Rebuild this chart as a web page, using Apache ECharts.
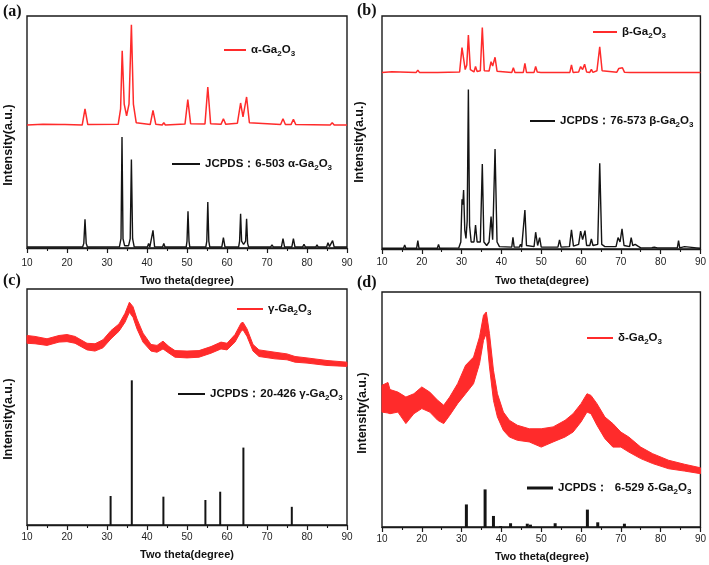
<!DOCTYPE html>
<html><head><meta charset="utf-8">
<script src="https://cdn.jsdelivr.net/npm/echarts@6/dist/echarts.min.js"></script>
<style>html,body{margin:0;padding:0;background:#fff}#c{width:709px;height:565px}</style>
</head><body><div id="c"></div>
<script>
// ---------- DATA ----------
const xRange = [10, 90];
const xStep = 10;
const xTitle = 'Two theta(degree)';
const yTitle = 'Intensity(a.u.)';
const panelLabels = ['(a)', '(b)', '(c)', '(d)'];
const seriesNames = {
  aRed: 'α-Ga2O3', aBlack: 'JCPDS：6-503 α-Ga2O3',
  bRed: 'β-Ga2O3', bBlack: 'JCPDS：76-573 β-Ga2O3',
  cRed: 'γ-Ga2O3', cBlack: 'JCPDS：20-426 γ-Ga2O3',
  dRed: 'δ-Ga2O3', dBlack: 'JCPDS：  6-529 δ-Ga2O3'
};

// (a) measured α-Ga2O3 pattern [2θ, intensity]
const aRed = [[10,53],[14,53.3],[18.5,53.2],[19,54],[19.5,53.2],[23.8,53],[24.5,60],[25.2,53.2],
 [32.8,53.3],[33.4,60],[33.8,85],[34.3,62],[34.9,57],[35.5,62],[36.1,96.2],[36.6,62],[37.3,54],
 [40.8,53.2],[41.5,59.3],[42.2,53.3],[43.8,53],[44.2,54],[44.6,53],
 [49.5,53.4],[50.2,64],[50.9,53.6],[54.5,53.5],[55.2,69.4],[55.9,53.6],
 [58.5,53.3],[59.1,55.7],[59.7,53.3],[62.6,53.8],[63.4,62.5],[64.0,56.5],[64.9,65.1],[65.6,54],
 [73.4,53.2],[74,55.7],[74.6,53.2],[76,53.2],[76.6,55.5],[77.2,53.2],[85.8,53],[86.3,54],[86.8,53],[90,53]];
// (a) JCPDS 6-503 reference pattern
const aBlack = [[10,0.4],[23.9,0.4],[24.2,2],[24.5,12.4],[24.8,2],[25.1,0.4],
 [33.1,0.5],[33.5,4],[33.75,47.8],[34.0,4],[34.4,1.0],[35.4,1.0],[35.8,4],[36.1,38.1],[36.4,4],[36.8,0.5],
 [40.1,0.4],[40.4,1.9],[40.7,0.4],[41.1,0.5],[41.5,7.6],[41.9,0.5],[43.9,0.4],[44.2,1.9],[44.5,0.4],
 [49.8,0.4],[50.0,3],[50.25,15.8],[50.5,3],[50.7,0.4],[54.7,0.4],[54.95,3],[55.2,19.8],[55.45,3],[55.7,0.4],
 [58.7,0.4],[59.1,4.5],[59.5,0.4],[62.9,0.4],[63.15,3],[63.4,14.8],[63.65,3],[64.15,1.5],[64.65,3],[64.9,12.6],[65.15,2],[65.4,0.4],
 [70.9,0.4],[71.25,1.4],[71.6,0.4],[73.6,0.4],[74,4],[74.4,0.4],[76.2,0.4],[76.6,4],[77,0.4],
 [78.9,0.4],[79.25,1.6],[79.6,0.4],[82.2,0.4],[82.5,1.4],[82.8,0.4],[84.9,0.4],[85.25,2.3],[85.6,0.6],[86.0,0.6],[86.4,3.2],[86.8,0.4],[90,0.4]];

// (b) measured β-Ga2O3 pattern
const bRed = [[10,75.7],[12.5,76.1],[18.6,75.8],[19,76.8],[19.4,75.8],[24,75.8],[24.2,76.3],[24.5,75.8],
 [29.5,76],[30.1,86.4],[30.4,86.8],[30.9,77],[31.3,79],[31.7,91.8],[32.2,77],
 [33.1,76],[33.5,78.3],[33.9,76.2],[34.7,76.5],[35.2,95.1],[35.7,76.5],
 [36.9,76.4],[37.4,80.4],[37.8,78.5],[38.4,82.3],[38.9,76.3],
 [42.6,75.8],[43,77.8],[43.4,75.8],[45.5,75.8],[45.9,79.7],[46.3,75.8],
 [48.2,75.8],[48.6,78.3],[49,76],[49.5,76.5],[49.9,75.8],
 [54.2,75.7],[54.6,76.5],[55,75.7],[57.2,75.8],[57.6,79],[58,75.8],
 [59.4,76],[59.9,78.3],[60.4,77],[60.9,79.3],[61.4,76],
 [62.2,75.8],[62.6,77.1],[63,75.8],[64,76.5],[64.7,86.8],[65.3,76.5],
 [69,75.9],[69.5,77.5],[69.9,76.8],[70.4,77.8],[70.9,75.9],
 [72.3,75.8],[72.6,76.5],[73,75.8],[73.7,75.8],[74,76.5],[74.3,75.8],
 [84.2,75.7],[84.5,76.2],[84.8,75.7],[90,75.7]];
// (b) JCPDS 76-573 reference pattern
const bBlack = [[10,0.3],[15.4,0.3],[15.7,1.7],[16,0.3],[18.7,0.3],[19,3.6],[19.3,0.3],[23.9,0.3],[24.2,2],[24.5,0.3],
 [29.3,0.5],[29.8,3],[30.1,21.3],[30.3,19],[30.5,25.3],[30.8,8],[31.1,4.5],[31.4,12],[31.7,68.5],[32.0,10],[32.4,3],
 [33.1,3],[33.5,10.3],[33.9,3],[34.7,3],[35.2,36.5],[35.6,3],[36.3,1.5],[36.9,3],[37.4,13.9],[37.8,4],[38.4,42.9],[38.9,3],[39.5,1],
 [42.6,0.8],[42.9,5],[43.2,0.8],[44.5,0.8],[44.8,2],[45.1,0.8],[45.6,1.5],[45.9,16.7],[46.3,1.5],
 [48.2,1],[48.6,7.2],[49.1,1.5],[49.6,4.9],[50,0.8],[50.8,0.8],[51,1.2],[51.3,0.5],
 [52.6,0.8],[54.2,0.8],[54.6,3.9],[55,0.8],[57.1,1],[57.6,8.2],[58.1,1.2],[59.4,2],[59.9,7.7],[60.4,4],[61,7.9],[61.4,1.5],
 [62.2,1.5],[62.6,4.3],[63,1.5],[64.2,2],[64.7,36.8],[65.2,2],[66,1],[68.8,1],[69.3,4.9],[69.8,3],[70.3,8.7],[70.8,1.5],
 [72.2,1],[72.6,4.9],[73,1.5],[73.6,2],[74,1.5],[74.3,1.2],[75,0.5],[77.8,0.6],[78,1.4],[78.4,0.8],[78.8,1.4],[79.2,0.5],
 [82,0.5],[82.2,1.2],[82.5,0.5],[84.2,0.5],[84.5,3.6],[84.8,0.5],[86,1],[86.5,0.5],[89,0.5],[89.2,1],[89.5,0.3],[90,0.3]];

// (c) measured γ-Ga2O3 noisy band [2θ, lower, upper]
const cRed = [[10,77.0,80.3],[12,76.8,79.9],[15,76.1,78.9],[18,77.5,80.3],[20,77.7,80.7],[22,77.0,79.9],
 [25,74.2,77.0],[27,73.7,76.8],[29,75.1,78.5],[31,78.9,82.4],[33,82.1,85.2],[34.5,85.9,89.7],
 [35.6,90.1,94.4],[36.5,88.0,92.5],[37.5,83.1,87.3],[39,77.5,81.3],[41,73.7,76.5],[42.5,73.2,76.1],
 [44,74.6,77.9],[45.5,72.8,75.6],[47,71.1,73.9],[50,70.8,73.7],[53,71.1,73.9],[56,72.8,75.6],
 [58.5,74.6,77.5],[60,74.2,77.0],[62,77.5,80.7],[63.5,82.1,85.5],[64,82.7,85.9],[65,79.9,83.1],
 [66.5,73.7,76.5],[68,71.4,74.2],[72,70.4,73.2],[75,70.0,72.5],[77,69.0,71.4],[80,68.6,70.8],
 [85,67.6,69.7],[90,67.2,69.0]];
// (c) JCPDS 20-426 stick pattern [2θ, intensity]
const cBlack = [[30.9,12.3],[36.2,61.3],[44.1,12.0],[54.6,10.6],[58.3,14.1],[64.1,32.8],[76.2,7.7]];

// (d) measured δ-Ga2O3 noisy band [2θ, lower, upper]
const dRed = [[10,48.9,60.3],[11.5,48.5,61.5],[12,48.2,58.5],[14,48.9,57.4],[16,44.0,55.3],[18,48.2,56.7],
 [20,50.4,59.6],[22,48.9,57.4],[24,45.4,53.9],[25.5,44.0,51.8],[27,47.5,55.3],[29,52.5,61.0],
 [31,56.7,68.8],[33,61.0,72.3],[34.5,69.5,80.9],[35.5,79.4,90.1],[36.2,82.3,91.5],[37,68.1,82.3],
 [38,53.9,66.7],[39,46.8,56.7],[40.5,41.1,48.9],[42,38.3,45.4],[44,36.9,43.3],[47,36.2,41.8],
 [50,34.0,41.8],[53,36.2,42.6],[56,38.3,45.4],[58,40.4,48.2],[60,44.7,52.5],[61.5,48.9,56.7],
 [62.5,48.2,56.0],[64,43.3,52.5],[66,37.6,46.8],[68,34.0,44.0],[70,34.0,40.4],[72,31.9,38.3],
 [75,29.1,34.0],[78,27.0,31.2],[82,24.8,28.4],[86,23.8,26.7],[90,22.7,25.2]];
// (d) JCPDS 6-529 stick pattern
const dBlack = [[31.2,9.6],[35.9,16.0],[38.0,4.7],[39.8,0.4],[42.3,1.6],[46.5,1.4],[47.3,1.0],[53.5,1.6],[61.6,7.4],[64.2,2.0],[70.9,1.4]];

// ---------- CHART ----------
const FONT = '"Liberation Sans", Arial, Helvetica, sans-serif';
const RED = '#ff2b2b';
const BLACK = '#141414';
const AX = '#1a1a1a';

const grids = [
  {left: 27, top: 16, width: 320, height: 232},
  {left: 382, top: 16, width: 320, height: 233},
  {left: 27, top: 289, width: 320, height: 236},
  {left: 382, top: 292, width: 320, height: 235}
];
const labelMargins = [10, 8, 7, 7];

const chart = echarts.init(document.getElementById('c'), null, {renderer: 'canvas'});

const xAxes = grids.map((g, i) => ({
  type: 'value', gridIndex: i, min: xRange[0], max: xRange[1], interval: xStep,
  axisLine: {show: true, lineStyle: {color: AX, width: 1.4}},
  axisTick: {show: true, inside: false, length: 5, lineStyle: {color: AX, width: 1.2}},
  minorTick: {show: true, splitNumber: 2, length: 3, lineStyle: {color: AX, width: 1.1}},
  axisLabel: {color: '#1e1e1e', fontSize: 10, fontFamily: FONT, margin: labelMargins[i]},
  splitLine: {show: false}, minorSplitLine: {show: false}
}));
const yAxes = grids.map((g, i) => ({
  type: 'value', gridIndex: i, min: 0, max: 100,
  axisLine: {show: false}, axisTick: {show: false}, axisLabel: {show: false}, splitLine: {show: false}
}));

function bandSeries(name, arr, idx) {
  return {
    name, type: 'custom', coordinateSystem: 'cartesian2d', xAxisIndex: idx, yAxisIndex: idx,
    itemStyle: {color: RED}, silent: true,
    data: arr, encode: {x: 0, y: [1, 2]},
    renderItem: function (params, api) {
      if (params.dataIndex !== 0) return null;
      const up = arr.map(p => api.coord([p[0], p[2]]));
      const lo = arr.map(p => api.coord([p[0], p[1]])).reverse();
      return {type: 'polygon', shape: {points: up.concat(lo)},
        style: {fill: RED, stroke: RED, lineWidth: 1}};
    }
  };
}
function lineSeries(name, arr, idx, color, w) {
  return {name, type: 'line', xAxisIndex: idx, yAxisIndex: idx, data: arr, showSymbol: false, symbol: 'none',
    itemStyle: {color}, lineStyle: {color, width: w}, silent: true, animation: false};
}
function stickSeries(name, arr, idx, w) {
  return {name, type: 'bar', xAxisIndex: idx, yAxisIndex: idx, data: arr, barWidth: w,
    itemStyle: {color: BLACK}, silent: true, animation: false};
}

const series = [
  lineSeries(seriesNames.aRed, aRed, 0, RED, 1.5),
  lineSeries(seriesNames.aBlack, aBlack, 0, BLACK, 1.4),
  lineSeries(seriesNames.bRed, bRed, 1, RED, 1.5),
  lineSeries(seriesNames.bBlack, bBlack, 1, BLACK, 1.4),
  bandSeries(seriesNames.cRed, cRed, 2),
  stickSeries(seriesNames.cBlack, cBlack, 2, 2),
  bandSeries(seriesNames.dRed, dRed, 3),
  stickSeries(seriesNames.dBlack, dBlack, 3, 3)
];

function fmt(name) {
  return '{t|' + name.replace('Ga2O3', 'Ga}{s|2}{t|O}{s|3}');
}
const rich = {
  t: {fontSize: 11.5, fontWeight: 'bold', fontFamily: FONT, color: '#111'},
  s: {fontSize: 8, fontWeight: 'bold', fontFamily: FONT, color: '#111', padding: [7, 0, 0, 0]}
};
function legend(name, left, top, w, h) {
  return {data: [name], left, top, itemWidth: w, itemHeight: h, icon: 'rect', selectedMode: false,
    padding: 0, formatter: fmt, textStyle: {rich}};
}
const legends = [
  legend(seriesNames.aRed, 224, 44, 22, 2),
  legend(seriesNames.aBlack, 172, 158, 28, 2),
  legend(seriesNames.bRed, 593, 26, 24, 2),
  legend(seriesNames.bBlack, 530, 115, 25, 2),
  legend(seriesNames.cRed, 237, 303, 26, 2),
  legend(seriesNames.cBlack, 178, 388, 27, 2),
  legend(seriesNames.dRed, 587, 332, 26, 2),
  legend(seriesNames.dBlack, 527, 482, 26, 3)
];

const graphics = [];
const letterPos = [[3, 13], [357, 12], [3, 282], [357, 284]];
panelLabels.forEach((t, i) => graphics.push({type: 'text', left: letterPos[i][0], top: letterPos[i][1] - 9,
  style: {text: t, font: 'bold 16px "Liberation Serif", "Times New Roman", serif', fill: '#111'}}));
const xtPos = [[187, 281], [542, 281], [187, 555], [542, 557]];
xtPos.forEach(p => graphics.push({type: 'text', x: p[0], y: p[1],
  style: {text: xTitle, font: 'bold 11px ' + FONT, fill: '#111', align: 'center', verticalAlign: 'middle'}}));
const ytPos = [[9, 145], [360, 142], [9, 419], [363, 413]];
ytPos.forEach(p => graphics.push({type: 'text', x: p[0], y: p[1], rotation: Math.PI / 2,
  style: {text: yTitle, font: 'bold 12.5px ' + FONT, fill: '#111', align: 'center', verticalAlign: 'middle'}}));

chart.setOption({
  animation: false,
  backgroundColor: '#fff',
  grid: grids.map(g => Object.assign({show: true, borderColor: AX, borderWidth: 1.4, backgroundColor: 'transparent'}, g)),
  xAxis: xAxes,
  yAxis: yAxes,
  legend: legends,
  series,
  graphic: graphics
});
</script>
</body></html>
